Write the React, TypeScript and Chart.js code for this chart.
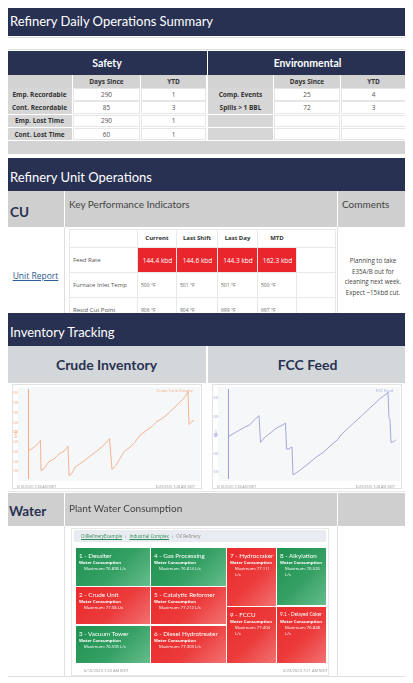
import React, { useEffect, useRef } from "react";
import { Chart, registerables } from "chart.js";

Chart.register(...registerables);

// ---------- DATA ----------
const safetyRows = ["Emp. Recordable", "Cont. Recordable", "Emp. Lost Time", "Cont. Lost Time"];
const safetyDaysSince = ["290", "85", "290", "60"];
const safetyYTD = ["1", "3", "1", "1"];
const envRows = ["Comp. Events", "Spills > 1 BBL", "", ""];
const envDaysSince = ["25", "72", "", ""];
const envYTD = ["4", "3", "", ""];

const kpiColumns = ["Current", "Last Shift", "Last Day", "MTD"];
const kpiRows = ["Feed Rate", "Furnace Inlet Temp", "Resid Cut Point"];
const feedRate = ["144.4 kbd", "144.6 kbd", "144.3 kbd", "162.3 kbd"];
const furnaceInletTemp = ["500 °F", "501 °F", "501 °F", "500 °F"];
const residCutPoint = ["906 °F", "904 °F", "699 °F", "697 °F"];
const kpiComment = "Planning to take E35A/B out for cleaning next week. Expect ~15kbd cut.";

// hours since 6/16/2020 7:28 AM MDT
const dayTickHours = [16.53, 40.53, 64.53, 88.53, 112.53, 136.53, 160.53];
const dayTickLabels = ["Jun 17", "Jun 18", "Jun 19", "Jun 20", "Jun 21", "Jun 22", "Jun 23"];

const crudeHours = [0, 4, 8, 11, 12.5, 13, 16, 21, 26, 31, 36, 40, 41, 44, 47, 51, 56, 62, 68, 74, 80, 81.5, 84, 88, 92, 96, 100, 106, 112, 118, 124, 129, 134, 140, 145, 150, 155, 159, 160, 161, 163, 166];
const crudeVolume = [310, 330, 365, 395, 418, 105, 125, 200, 225, 277, 305, 355, 56, 80, 140, 170, 205, 255, 300, 350, 414, 434, 118, 160, 230, 300, 330, 385, 470, 515, 560, 611, 640, 690, 740, 790, 840, 895, 917, 580, 600, 625];
const crudeTicks = [100, 200, 300, 400, 500, 600, 700, 800, 900];

const fccHours = [0, 8, 16, 22, 26, 31, 32.5, 36, 42, 48, 54, 57.5, 58.5, 61, 63, 64, 65, 72, 80, 88, 96, 104, 110, 112, 120, 128, 136, 144, 152, 159, 160, 161, 162, 163, 166, 168];
const fccFeed = [145, 158, 170, 178, 190, 202, 130, 142, 155, 168, 176, 182, 112, 112, 117, 117, 42, 55, 72, 90, 105, 125, 138, 148, 168, 188, 208, 228, 248, 262, 266, 195, 192, 130, 132, 138];
const fccTicks = [50, 100, 150, 200, 250];

const unitNames = ["1 - Desalter", "4 - Gas Processing", "7 - Hydrocraker", "8 - Alkylation", "2 - Crude Unit", "5 - Catalytic Reformer", "9 - FCCU", "9.1 - Delayed Coker", "3 - Vacuum Tower", "6 - Diesel Hydrotreater"];
const unitMaxWater = ["76.896", "76.814", "77.111", "76.525", "77.08", "77.212", "77.404", "76.828", "76.595", "77.303"];
const unitAlarm = [false, false, true, false, true, true, true, true, false, true];

// ---------- STYLE / LAYOUT ----------
const NAVY = "#283152";
const FONT = "'Open Sans', 'Noto Sans', sans-serif";
const HFONT = "Lato, 'Open Sans', sans-serif";
const tileBoxes: [number, number, number, number][] = [
  [76, 548, 74, 38], [151, 548, 75, 38], [227, 548, 49, 58], [277, 548, 49, 57],
  [76, 587, 74, 37], [151, 587, 75, 37], [227, 607, 49, 56], [277, 607, 49, 56],
  [76, 626, 74, 37], [151, 626, 75, 37],
];

const abs = (l: number, t: number, w: number, h: number, extra: React.CSSProperties = {}): React.CSSProperties => ({
  position: "absolute", left: l, top: t, width: w, height: h, boxSizing: "border-box", ...extra,
});

function LineChart(props: { xs: number[]; ys: number[]; color: string; yMin: number; yMax: number; yTicks: number[]; yTitle: string }) {
  const ref = useRef<HTMLCanvasElement>(null);
  useEffect(() => {
    const { xs, ys, color, yMin, yMax, yTicks, yTitle } = props;
    const chart = new Chart(ref.current!, {
      type: "line",
      data: {
        datasets: [{
          data: xs.map((x, i) => ({ x, y: ys[i] })),
          borderColor: color, borderWidth: 0.9, pointRadius: 0, tension: 0, fill: false,
        }],
      },
      options: {
        animation: false, responsive: true, maintainAspectRatio: false,
        layout: { padding: { top: 3, right: 5, left: 0, bottom: 0 } },
        plugins: { legend: { display: false }, tooltip: { enabled: false } },
        scales: {
          x: {
            type: "linear", min: 0, max: 168,
            grid: { display: false }, border: { display: false },
            afterBuildTicks: (a: any) => { a.ticks = dayTickHours.map((v) => ({ value: v })); },
            afterFit: (a: any) => { a.height = 7; },
            ticks: { font: { size: 4, family: FONT }, color: "#888", padding: 1, autoSkip: false, maxRotation: 0,
              callback: (_v: any, i: number) => dayTickLabels[i] },
          },
          y: {
            type: "linear", min: yMin, max: yMax,
            grid: { display: false }, border: { color, width: 1 },
            afterBuildTicks: (a: any) => { a.ticks = yTicks.map((v) => ({ value: v })); },
            afterFit: (a: any) => { a.width = 15; },
            ticks: { font: { size: 4, family: FONT }, color, padding: 2 },
            title: { display: true, text: yTitle, color, font: { size: 4, family: FONT }, padding: 0 },
          },
        },
      } as any,
    });
    return () => chart.destroy();
  }, []);
  return <canvas ref={ref} />;
}

function ChartCard(props: { left: number; width: number; color: string; legend: string; children: React.ReactNode }) {
  const { left, width, color, legend } = props;
  return (
    <div style={abs(left, 384, width, 105, { border: "1px solid #e2e2e2", background: "#fff" })}>
      <div style={abs(5, 2, width - 8, 94, { background: "#f6f7f9" })} />
      <div style={abs(0, 0, width - 2, 100)}>{props.children}</div>
      <div style={{ position: "absolute", right: 8, top: 3, fontSize: 4, color, fontFamily: FONT, whiteSpace: "nowrap" }}>{legend}</div>
      <div style={{ position: "absolute", left: 4, top: 99, fontSize: 3.5, color: "#999", fontFamily: FONT, whiteSpace: "nowrap" }}>6/16/2020 7:28 AM MDT</div>
      <div style={{ position: "absolute", right: 6, top: 99, fontSize: 3.5, color: "#999", fontFamily: FONT, whiteSpace: "nowrap" }}>6/23/2020 7:28 AM MDT</div>
    </div>
  );
}

const headerText: React.CSSProperties = { color: "#fff", fontSize: 13, fontWeight: 400, fontFamily: HFONT, paddingLeft: 3, display: "flex", alignItems: "center" };
const center: React.CSSProperties = { display: "flex", alignItems: "center", justifyContent: "center", textAlign: "center" };

function SummaryTable(props: { left: number; widths: number[]; title: string; rows: string[]; days: string[]; ytd: string[] }) {
  const { left, widths, title, rows, days, ytd } = props;
  const lefts = [left, left + widths[0], left + widths[0] + widths[1]];
  const total = widths[0] + widths[1] + widths[2];
  const rowTop = (i: number) => 88 + i * 13.3;
  return (
    <>
      <div style={abs(left, 51, total, 24, { background: NAVY, color: "#fff", fontWeight: 700, fontSize: 10.5, fontFamily: HFONT, ...center })}>{title}</div>
      {[0, 1, 2].map((c) => (
        <div key={"h" + c} style={abs(lefts[c], 75, widths[c] - 1, 13, { background: "#d3d3d3", fontWeight: 700, fontSize: 6.5, color: "#333", fontFamily: FONT, ...center })}>
          {c === 1 ? "Days Since" : c === 2 ? "YTD" : ""}
        </div>
      ))}
      {rows.map((r, i) => (
        <React.Fragment key={i}>
          <div style={abs(lefts[0], rowTop(i), widths[0] - 1, 12.5, { background: "#d6d6d6", fontWeight: 700, fontSize: 6.5, color: "#333", fontFamily: FONT, ...center })}>{r}</div>
          <div style={abs(lefts[1], rowTop(i), widths[1] - 1, 12.5, { background: "#fff", border: "1px solid #e6e6e6", fontSize: 6.5, color: "#555", fontFamily: FONT, ...center })}>{days[i]}</div>
          <div style={abs(lefts[2], rowTop(i), widths[2] - 1, 12.5, { background: "#fff", border: "1px solid #e6e6e6", fontSize: 6.5, color: "#555", fontFamily: FONT, ...center })}>{ytd[i]}</div>
        </React.Fragment>
      ))}
    </>
  );
}

export default function App() {
  const kpiValues = [feedRate, furnaceInletTemp, residCutPoint];
  const kpiColLefts = [137, 176, 217, 257];
  const kpiColWidths = [39, 41, 40, 39];
  const kpiRowTops = [247, 272, 297];
  return (
    <div style={{ position: "relative", width: 413, height: 683, marginLeft: -8, marginTop: -8, background: "#fff", overflow: "hidden", fontFamily: FONT }}>
      {/* Section 1 */}
      <div style={abs(7, 6, 400, 30, { background: NAVY, ...headerText })}>Refinery Daily Operations Summary</div>
      <div style={abs(7, 37, 400, 13, { border: "1px solid #e0e0e0" })} />
      <SummaryTable left={7} widths={[66, 68, 66]} title="Safety" rows={safetyRows} days={safetyDaysSince} ytd={safetyYTD} />
      <SummaryTable left={208} widths={[66, 67, 66]} title="Environmental" rows={envRows} days={envDaysSince} ytd={envYTD} />
      <div style={abs(7, 141, 400, 13, { background: "#d3d3d3" })} />

      {/* Section 2 */}
      <div style={abs(7, 158, 400, 33, { background: NAVY, ...headerText, paddingTop: 4 })}>Refinery Unit Operations</div>
      <div style={abs(7, 191, 57, 36, { background: "#cfcfcf", color: NAVY, fontWeight: 700, fontSize: 13.5, fontFamily: HFONT, paddingLeft: 3, paddingTop: 13 })}>CU</div>
      <div style={abs(65, 191, 272, 36, { background: "#cfcfcf", color: "#444", fontSize: 10, fontFamily: HFONT, paddingLeft: 4, paddingTop: 7 })}>Key Performance Indicators</div>
      <div style={abs(338, 191, 69, 36, { background: "#cfcfcf", color: "#444", fontSize: 10, fontFamily: HFONT, paddingLeft: 4, paddingTop: 7 })}>Comments</div>
      <div style={abs(7, 227, 400, 86, { borderLeft: "1px solid #e0e0e0", borderRight: "1px solid #e0e0e0" })} />
      <div style={abs(64, 227, 1, 86, { background: "#e0e0e0" })} />
      <div style={abs(337, 227, 1, 86, { background: "#e0e0e0" })} />
      <div style={abs(7, 227, 57, 86, { ...center, paddingTop: 10 })}>
        <span style={{ color: "#2b5a94", textDecoration: "underline", fontSize: 8.5 }}>Unit Report</span>
      </div>
      <div style={abs(69, 229, 267, 84, { border: "1px solid #e8e8e8", borderBottom: "none" })} />
      {kpiColumns.map((c, i) => (
        <div key={c} style={abs(kpiColLefts[i], 229, kpiColWidths[i], 18, { fontWeight: 700, fontSize: 6, color: "#333", ...center, borderLeft: "1px solid #e8e8e8" })}>{c}</div>
      ))}
      {kpiRows.map((r, ri) => (
        <React.Fragment key={r}>
          <div style={abs(69, kpiRowTops[ri], 68, 25, { borderTop: "1px solid #e8e8e8", fontSize: 6, color: "#555", display: "flex", alignItems: "center", paddingLeft: 4 })}>{r}</div>
          {kpiValues[ri].map((v, ci) => (
            <div key={ci} style={abs(kpiColLefts[ci], kpiRowTops[ri], kpiColWidths[ci], 25, {
              borderTop: "1px solid #e8e8e8", borderLeft: "1px solid #e8e8e8",
              background: ri === 0 ? "#e9262c" : "transparent", color: ri === 0 ? "#fff" : "#666",
              fontSize: ri === 0 ? 6.5 : 5, display: "flex", alignItems: "center", paddingLeft: ri === 0 ? 1 : 3,
              justifyContent: ri === 0 ? "center" : "flex-start",
            })}>{v}</div>
          ))}
          <div style={abs(296, kpiRowTops[ri], 40, 25, { borderTop: "1px solid #e8e8e8", borderLeft: "1px solid #e8e8e8" })} />
        </React.Fragment>
      ))}
      <div style={abs(340, 256, 66, 50, { fontSize: 6.2, color: "#444", lineHeight: "10.5px", textAlign: "center" })}>{kpiComment}</div>

      {/* Section 3 */}
      <div style={abs(7, 313, 400, 33, { background: NAVY, ...headerText, paddingTop: 4 })}>Inventory Tracking</div>
      <div style={abs(7, 346, 199, 37, { background: "#d4d7da", color: NAVY, fontWeight: 700, fontSize: 14, fontFamily: HFONT, ...center })}>Crude Inventory</div>
      <div style={abs(208, 346, 199, 37, { background: "#d4d7da", color: NAVY, fontWeight: 700, fontSize: 14, fontFamily: HFONT, ...center })}>FCC Feed</div>
      <div style={abs(7, 383, 400, 109, { border: "1px solid #e6e6e6", borderTop: "none" })} />
      <ChartCard left={12} width={190} color="#f2ab85" legend="Crude Tank Volume">
        <LineChart xs={crudeHours} ys={crudeVolume} color="#f2ab85" yMin={30} yMax={940} yTicks={crudeTicks} yTitle="kbbl" />
      </ChartCard>
      <ChartCard left={212} width={190} color="#9a9fd6" legend="FCC Feed">
        <LineChart xs={fccHours} ys={fccFeed} color="#9a9fd6" yMin={34} yMax={273} yTicks={fccTicks} yTitle="kbd" />
      </ChartCard>

      {/* Section 4 */}
      <div style={abs(7, 493, 57, 33, { background: "#cfcfcf", color: NAVY, fontWeight: 700, fontSize: 13.5, fontFamily: HFONT, paddingLeft: 2, paddingTop: 10 })}>Water</div>
      <div style={abs(65, 493, 272, 33, { background: "#cfcfcf", color: "#444", fontSize: 10, fontFamily: HFONT, paddingLeft: 4, paddingTop: 9 })}>Plant Water Consumption</div>
      <div style={abs(338, 493, 69, 33, { background: "#cfcfcf" })} />
      <div style={abs(7, 526, 400, 151, { border: "1px solid #e0e0e0", borderTop: "none" })} />
      <div style={abs(64, 526, 1, 150, { background: "#e0e0e0" })} />
      <div style={abs(337, 526, 1, 150, { background: "#e0e0e0" })} />
      <div style={abs(71, 528, 258, 148, { border: "1px solid #e6e6e6" })} />
      <div style={abs(74, 530, 252, 12, { background: "#e8ecf0", fontSize: 4.5, color: "#888", display: "flex", alignItems: "center", paddingLeft: 7, whiteSpace: "nowrap" })}>
        <span style={{ color: "#2e8b57", textDecoration: "underline" }}>OilRefineryExample</span>
        <span style={{ margin: "0 3px" }}>›</span>
        <span style={{ color: "#2e8b57", textDecoration: "underline" }}>Industrial Complex</span>
        <span style={{ margin: "0 3px" }}>›</span>
        <span>Oil Refinery</span>
      </div>
      {unitNames.map((n, i) => {
        const [l, t, w, h] = tileBoxes[i];
        const bg = unitAlarm[i]
          ? "linear-gradient(135deg, #ea2a2c 0%, #ec3a3a 55%, #f27272 100%)"
          : "linear-gradient(135deg, #1f9150 0%, #35a064 55%, #66bd8c 100%)";
        const small = w < 60;
        return (
          <div key={n} style={abs(l, t, w, h, { background: bg, color: "#fff", padding: "3px 3px", overflow: "hidden" })}>
            <div style={{ fontSize: small && n.length > 16 ? 4.8 : 6.3, lineHeight: "9px", whiteSpace: "nowrap", fontFamily: HFONT }}>{n}</div>
            <div style={{ fontSize: 4.2, fontWeight: 700, lineHeight: "6px", whiteSpace: "nowrap" }}>Water Consumption</div>
            <div style={{ fontSize: 4.2, lineHeight: "6px", paddingLeft: 5 }}>Maximum: {unitMaxWater[i]} L/s</div>
          </div>
        );
      })}
      <div style={{ position: "absolute", left: 84, top: 668, fontSize: 4, color: "#999", whiteSpace: "nowrap" }}>6/16/2020 7:28 AM MDT</div>
      <div style={{ position: "absolute", left: 283, top: 668, fontSize: 4, color: "#999", whiteSpace: "nowrap" }}>6/23/2020 7:21 AM MDT</div>
    </div>
  );
}
